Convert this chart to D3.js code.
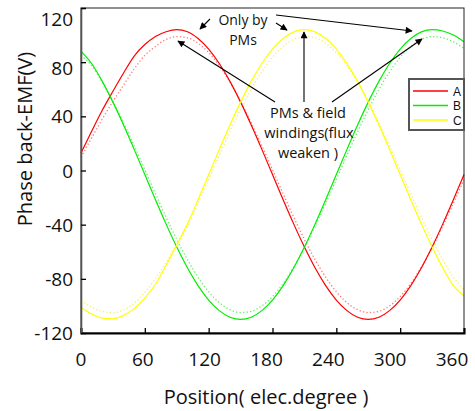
<!DOCTYPE html>
<html>
<head>
<meta charset="utf-8">
<script src="https://cdn.jsdelivr.net/npm/d3@7"></script>
<style>
  body { margin: 0; background: #fff; }
  svg { display: block; }
  .tick-label { font-family: "Open Sans", sans-serif; font-size: 19px; fill: #111; }
  .axis-title { font-family: "Open Sans", sans-serif; font-size: 20px; fill: #111; }
  .note { font-family: "Open Sans", sans-serif; font-size: 14px; fill: #111; }
  .legend-label { font-family: "Liberation Sans", Arial, sans-serif; font-size: 12px; fill: #111; }
</style>
</head>
<body>
<svg id="chart" width="475" height="411"></svg>
<script>
// electrical position (deg)
const positions = [0, 10, 20, 30, 40, 50, 60, 70, 80, 90, 100, 110, 120, 130, 140, 150, 160, 170, 180,
                   190, 200, 210, 220, 230, 240, 250, 260, 270, 280, 290, 300, 310, 320, 330, 340, 350, 360];

// PMs & field windings (solid)
const phaseA = [13, 29, 44.5, 58.5, 72, 84.5, 93, 99, 102.5, 104, 102.5, 97.5, 89.7, 79, 65.8, 50.5, 33.6, 15.6, -3,
                -21.6, -39.6, -56.5, -71.8, -85, -95.7, -103.5, -108.4, -110, -108.4, -103.5, -95.7, -85, -71.8, -56.5, -39.6, -21.6, -3];
const phaseB = [88, 79, 65.8, 50.5, 33.6, 15.6, -3, -21.6, -39.6, -56.5, -71.8, -85, -95.7, -103.5, -108.4, -110, -108.4, -103.5, -95.7,
                -85, -71.8, -56.5, -39.6, -21.6, -3, 15.6, 33.6, 50.5, 65.8, 79, 89.7, 97.5, 102.4, 104, 103, 100, 95];
const phaseC = [-101, -106, -109, -109.5, -107, -102, -94, -84, -70, -55, -39.6, -21.6, -3, 15.6, 33.6, 50.5, 65.8, 79, 89.7,
                97.5, 102.4, 104, 102.4, 97.5, 89.7, 79, 65.8, 50.5, 33.6, 15.6, -3, -21.6, -39.6, -56.5, -71.8, -85, -92.5];

// only by PMs (dotted)
const pmA = [10, 24, 38, 51, 63, 75, 85, 91.6, 96.8, 98.9, 98, 94, 87.1, 77.4, 65.2, 51, 35.2, 18.2, 0.6,
             -17.2, -34.5, -50.9, -65.8, -78.8, -89.5, -97.6, -102.8, -104.9, -104, -100, -93.1, -83.4, -71.2, -57, -41.2, -24.2, -6.6];
const pmB = [85, 77.4, 65.2, 51, 35.2, 18.2, 0.6, -17.2, -34.5, -50.9, -65.8, -78.8, -89.5, -97.6, -102.8, -104.9, -104, -100, -93.1,
             -83.4, -71.2, -57, -41.2, -24.2, -6.6, 11.2, 28.5, 44.9, 59.8, 72.8, 83.5, 91.6, 96.8, 98.9, 98, 95, 90];
const pmC = [-96, -101, -104, -105, -103, -98, -90, -80, -68, -54, -41.2, -24.2, -6.6, 11.2, 28.5, 44.9, 59.8, 72.8, 83.5,
             91.6, 96.8, 98.9, 98, 94, 87.1, 77.4, 65.2, 51, 35.2, 18.2, 0.6, -17.2, -34.5, -50.9, -65.8, -78.8, -88];

const xTicks = [0, 60, 120, 180, 240, 300, 360];
const yTicks = [-120, -80, -40, 0, 40, 80, 120];
const legendNames = ['A', 'B', 'C'];
const colours = ['#ff0000', '#00ee00', '#ffff00'];
const dotColours = ['#ff7a7a', '#66f066', '#f4f070'];

const svg = d3.select('#chart');
const margin = {left: 81, right: 11, top: 8, bottom: 78};
const W = 475, H = 411;
const innerW = W - margin.left - margin.right;
const innerH = H - margin.top - margin.bottom;

const x = d3.scaleLinear().domain([0, 360]).range([margin.left, margin.left + innerW]);
const y = d3.scaleLinear().domain([-120, 120]).range([margin.top + innerH, margin.top]);

// arrow marker
svg.append('defs').append('marker')
    .attr('id', 'arrow')
    .attr('viewBox', '0 0 10 10')
    .attr('refX', 9).attr('refY', 5)
    .attr('markerWidth', 9).attr('markerHeight', 7)
    .attr('markerUnits', 'userSpaceOnUse')
    .attr('orient', 'auto')
  .append('path').attr('d', 'M0,0 L10,5 L0,10 Z').attr('fill', '#000');

const line = d3.line()
    .x((d, i) => x(positions[i]))
    .y(d => y(d))
    .curve(d3.curveMonotoneX);

// dotted first, solid on top
[pmA, pmB, pmC].forEach((s, i) => {
  svg.append('path').datum(s)
    .attr('d', line)
    .attr('fill', 'none')
    .attr('stroke', dotColours[i])
    .attr('stroke-width', 1.3)
    .attr('stroke-dasharray', '1.3,2.2');
});
[phaseA, phaseB, phaseC].forEach((s, i) => {
  svg.append('path').datum(s)
    .attr('d', line)
    .attr('fill', 'none')
    .attr('stroke', colours[i])
    .attr('stroke-width', 1.2);
});

// frame
svg.append('rect')
    .attr('x', margin.left).attr('y', margin.top)
    .attr('width', innerW).attr('height', innerH)
    .attr('fill', 'none').attr('stroke', '#222').attr('stroke-width', 1);

// axes (inward ticks)
const xAxis = d3.axisBottom(x).tickValues(xTicks).tickSize(-5).tickFormat('');
const yAxis = d3.axisLeft(y).tickValues(yTicks).tickSize(-5).tickFormat('');

svg.append('g')
    .attr('transform', `translate(0,${margin.top + innerH})`)
    .call(xAxis)
    .call(g => g.select('.domain').attr('stroke', '#000').attr('stroke-width', 2))
    .call(g => g.selectAll('.tick line').attr('stroke', '#000').attr('stroke-width', 1.3));

svg.append('g')
    .attr('transform', `translate(${margin.left},0)`)
    .call(yAxis)
    .call(g => g.select('.domain').attr('stroke', '#555').attr('stroke-width', 1.6))
    .call(g => g.selectAll('.tick line').attr('stroke', '#000').attr('stroke-width', 1.3));

// tick labels
svg.selectAll('text.xlab').data(xTicks).join('text')
    .attr('class', 'tick-label xlab')
    .attr('x', d => x(d) - d / 30)
    .attr('y', 366)
    .attr('text-anchor', 'middle')
    .text(d => d);

// the top two labels sit a little below their ticks in the original
const yLabelShift = {120: 11, 80: 6};
svg.selectAll('text.ylab').data(yTicks).join('text')
    .attr('class', 'tick-label ylab')
    .attr('x', 73)
    .attr('y', d => y(d) + 7 + (yLabelShift[d] || 0))
    .attr('text-anchor', 'end')
    .text(d => d);

// axis titles
svg.append('text')
    .attr('class', 'axis-title')
    .attr('x', 266).attr('y', 404)
    .attr('text-anchor', 'middle')
    .text('Position( elec.degree )');

svg.append('text')
    .attr('class', 'axis-title')
    .attr('transform', 'rotate(-90)')
    .attr('x', -139).attr('y', 32)
    .attr('text-anchor', 'middle')
    .text('Phase back-EMF(V)');

// annotations
svg.append('text').attr('class', 'note').attr('x', 243).attr('y', 25)
    .attr('text-anchor', 'middle').text('Only by');
svg.append('text').attr('class', 'note').attr('x', 243).attr('y', 45)
    .attr('text-anchor', 'middle').text('PMs');

const notes2 = ['PMs & field', 'windings(flux', 'weaken )'];
svg.selectAll('text.note2').data(notes2).join('text')
    .attr('class', 'note note2')
    .attr('x', (d, i) => i === 1 ? 309 : 308)
    .attr('y', (d, i) => 118 + i * 20)
    .attr('text-anchor', 'middle')
    .style('font-size', '14.5px')
    .text(d => d);

const arrows = [
  [[210, 19], [200, 29]],
  [[276, 23], [287, 30]],
  [[276, 15], [412, 31]],
  [[275, 102], [178, 41]],
  [[304, 102], [304, 32]],
  [[332, 102], [422, 39]]
];
svg.selectAll('line.arrow').data(arrows).join('line')
    .attr('class', 'arrow')
    .attr('x1', d => d[0][0]).attr('y1', d => d[0][1])
    .attr('x2', d => d[1][0]).attr('y2', d => d[1][1])
    .attr('stroke', '#000').attr('stroke-width', 1.1)
    .attr('marker-end', 'url(#arrow)');

// legend
const lg = svg.append('g').attr('transform', 'translate(409,79)');
lg.append('rect').attr('width', 55).attr('height', 51)
    .attr('fill', '#fff').attr('stroke', '#555').attr('stroke-width', 2);
legendNames.forEach((n, i) => {
  const yy = 12 + i * 14.5;
  lg.append('line').attr('x1', 4).attr('x2', 39).attr('y1', yy).attr('y2', yy)
    .attr('stroke', colours[i]).attr('stroke-width', 1.6);
  lg.append('text').attr('class', 'legend-label')
    .attr('x', 44).attr('y', yy + 4.5).text(n);
});
</script>
</body>
</html>
